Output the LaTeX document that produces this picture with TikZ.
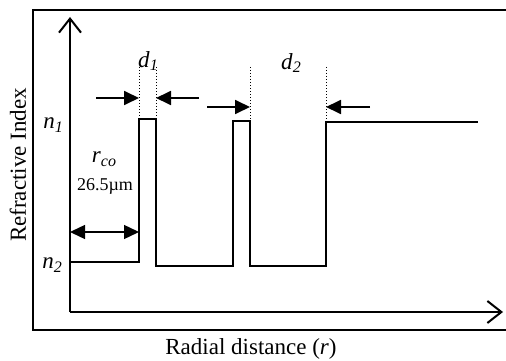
\documentclass[tikz,border=0pt]{standalone}
\usepackage{fontspec}
\setmainfont{Liberation Serif}
\usepackage{tikz}
\usetikzlibrary{positioning,calc,arrows.meta}
\newcommand{\idx}[2]{\textit{#1}\raisebox{-0.35ex}{\fontsize{16}{16}\selectfont\textit{#2}}}

\begin{document}
\begin{tikzpicture}[x=1pt,y=-1pt,font=\fontsize{23}{27}\selectfont,
  axis/.style={line width=2pt,-{Straight Barb[length=14pt,width=22pt,line width=2pt]}},
  prof/.style={line width=1.6pt,line join=miter},
  guide/.style={dotted,line width=1pt},
  dimarr/.style={line width=1.8pt,-{Triangle[length=15pt,width=14pt]}}]
  \useasboundingbox (0,0) rectangle (506,361);
  % frame
  \draw[line width=2.6pt] (507,10) -- (33,10) -- (33,330) -- (507,330);
  % axes
  \coordinate (o) at (70,312);
  \coordinate (ytop) at (70,17);
  \coordinate (xend) at (503,312);
  \draw[axis] (o) -- (ytop);
  \draw[axis] (o) -- (xend);
  % index profile
  \draw[prof] (70,262) -- (139,262) -- (139,119) -- (156,119) -- (156,266) -- (233,266)
    -- (233,121) -- (250,121) -- (250,266) -- (326,266) -- (326,122) -- (478,122);
  % guides
  \draw[guide] (139,67) -- (139,119); \draw[guide] (156,67) -- (156,119);
  \draw[guide] (250,67) -- (250,121); \draw[guide] (326,67) -- (326,122);
  % dimension arrows
  \coordinate (a1) at (96,98);  \coordinate (b1) at (139,98);
  \coordinate (a2) at (199,98); \coordinate (b2) at (156,98);
  \coordinate (a3) at (207,107); \coordinate (b3) at (250,107);
  \coordinate (a4) at (370,107); \coordinate (b4) at (326,107);
  \draw[dimarr] (a1) -- (b1); \draw[dimarr] (a2) -- (b2);
  \draw[dimarr] (a3) -- (b3); \draw[dimarr] (a4) -- (b4);
  \coordinate (rl) at (70,232); \coordinate (rr) at (139,232);
  \draw[dimarr,line width=1.4pt,{Triangle[length=15pt,width=14pt]}-{Triangle[length=15pt,width=14pt]}] (rl) -- (rr);
  % labels
  \node (d1) at (148,61) {\idx{d}{1}};
  \node (d2) at (291,63) {\idx{d}{2}};
  \node (n1) at (53,125) {\idx{n}{1}};
  \node (n2) at (52,265) {\idx{n}{2}};
  \node (rco) at (104,159) {\idx{r}{co}};
  \node[font=\fontsize{18}{20}\selectfont] (rval) at (105,186) {26.5µm};
  \node[rotate=90] (ylab) at (18,165) {Refractive Index};
  \node (xlab) at (251,349) {Radial distance (\textit{r})};
\end{tikzpicture}
\end{document}
